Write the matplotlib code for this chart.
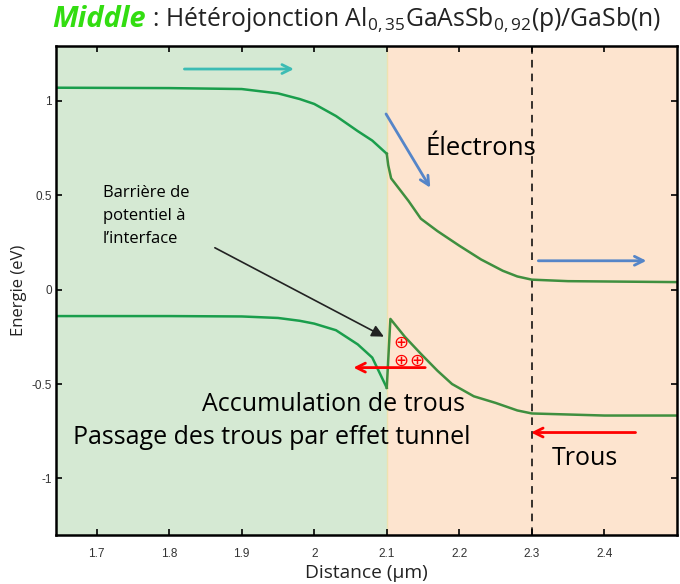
import matplotlib.pyplot as plt

# Band edges of the Al0.35GaAsSb0.92(p)/GaSb(n) heterojunction (eV vs µm)
x_left = [1.644, 1.80, 1.90, 1.95, 1.98, 2.00, 2.03, 2.06, 2.08, 2.10]
ec_left = [1.07, 1.068, 1.063, 1.04, 1.01, 0.984, 0.92, 0.84, 0.79, 0.72]
ev_left = [-0.14, -0.14, -0.142, -0.15, -0.165, -0.18, -0.215, -0.29, -0.36, -0.52]

x_ec_right = [2.10, 2.102, 2.106, 2.12, 2.13, 2.147, 2.17, 2.20, 2.23, 2.26, 2.28, 2.30, 2.35, 2.50]
ec_right = [0.72, 0.66, 0.59, 0.52, 0.47, 0.376, 0.31, 0.233, 0.16, 0.10, 0.07, 0.053, 0.045, 0.04]

x_ev_right = [2.10, 2.105, 2.125, 2.147, 2.17, 2.19, 2.22, 2.25, 2.28, 2.30, 2.40, 2.50]
ev_right = [-0.52, -0.155, -0.25, -0.34, -0.43, -0.50, -0.565, -0.60, -0.64, -0.656, -0.667, -0.667]

x_interface = 2.10
x_dashed = 2.30
x_range = (1.644, 2.50)
y_range = (-1.30, 1.29)

# hole symbols in the interface well
holes_x = [2.12, 2.12, 2.142]
holes_y = [-0.28, -0.376, -0.376]

GREEN_BG = "#d5e9d3"
PEACH_BG = "#fde4cf"
font = "Open Sans"

plt.rcParams["mathtext.fontset"] = "custom"
plt.rcParams["mathtext.rm"] = font
plt.rcParams["mathtext.it"] = font + ":italic"

fig = plt.figure(figsize=(6.8, 5.84), dpi=100)
ax = fig.add_axes([0.0824, 0.0839, 0.913, 0.837])
ax.set_xlim(*x_range)
ax.set_ylim(*y_range)

ax.axvspan(x_range[0], x_interface, color=GREEN_BG, zorder=0, lw=0)
ax.axvspan(x_interface, x_range[1], color=PEACH_BG, zorder=0, lw=0)
ax.axvline(x_interface, color="#eee2b0", lw=1, zorder=0.5)
ax.axvline(x_dashed, color="black", lw=1.1, ls=(0, (5, 4)), zorder=1)

ax.plot(x_left, ec_left, color="#1a9e4c", lw=1.8, zorder=2)
ax.plot(x_left, ev_left, color="#1a9e4c", lw=1.8, zorder=2)
ax.plot(x_ec_right, ec_right, color="#3f8f3f", lw=1.8, zorder=2)
ax.plot(x_ev_right, ev_right, color="#3f8f3f", lw=1.8, zorder=2)


def arrow(x0, y0, x1, y1, color, lw=2.0):
    ax.annotate("", xy=(x1, y1), xytext=(x0, y0),
                arrowprops=dict(arrowstyle="->", color=color, lw=lw,
                                mutation_scale=16, shrinkA=0, shrinkB=0),
                zorder=4)


arrow(1.821, 1.169, 1.972, 1.169, "#3cbcb4")
arrow(2.099, 0.931, 2.160, 0.54, "#5585c8")
arrow(2.309, 0.153, 2.458, 0.153, "#5585c8")
arrow(2.153, -0.413, 2.054, -0.413, "#ff0000")
arrow(2.443, -0.757, 2.299, -0.757, "#ff0000")
ax.annotate("", xy=(2.096, -0.249), xytext=(1.863, 0.222),
            arrowprops=dict(arrowstyle="-|>", color="#222222", lw=1.2,
                            mutation_scale=18, shrinkA=0, shrinkB=0),
            zorder=4)

for hx, hy in zip(holes_x, holes_y):
    ax.text(hx, hy, "\u2295", color="#ff0000", fontsize=13,
            ha="center", va="center", family="DejaVu Sans", zorder=5)

ax.text(2.153, 0.75, "Électrons", fontsize=18.5, family=font, va="center")
ax.text(1.7085, 0.39, "Barrière de\npotentiel à\nl\u2019interface", fontsize=12,
        family=font, va="center", linespacing=1.55)
ax.text(2.026, -0.61, "Accumulation de trous", fontsize=18, family=font,
        ha="center", va="center")
ax.text(1.941, -0.785, "Passage des trous par effet tunnel", fontsize=18,
        family=font, ha="center", va="center")
ax.text(2.327, -0.895, "Trous", fontsize=18, family=font, va="center")

ax.set_xticks([1.7, 1.8, 1.9, 2.0, 2.1, 2.2, 2.3, 2.4])
ax.set_xticklabels(["1.7", "1.8", "1.9", "2", "2.1", "2.2", "2.3", "2.4"])
ax.set_yticks([-1, -0.5, 0, 0.5, 1])
ax.set_yticklabels(["-1", "-0.5", "0", "0.5", "1"])
ax.tick_params(direction="in", length=4, width=1.2, top=True, right=True,
               labelsize=8.5, labelcolor="#333333")
ax.tick_params(axis="x", pad=9)
ax.tick_params(axis="y", pad=3)
for lab in ax.get_xticklabels() + ax.get_yticklabels():
    lab.set_family("Liberation Sans")
for spine in ax.spines.values():
    spine.set_linewidth(1.8)

ax.set_xlabel("Distance (µm)", fontsize=13.8, family=font, color="#222222", labelpad=3)
ax.set_ylabel("Energie (eV)", fontsize=12, family=font, color="#222222", labelpad=3)

# Title: green italic "Middle" followed by the structure, on one baseline
title_y = 0.954
t1 = fig.text(0.0765, title_y, "Middle", fontsize=21, family=font, weight="bold",
              style="italic", color="#33dd11", va="baseline")
fig.canvas.draw()
x_end = fig.transFigure.inverted().transform(
    (t1.get_window_extent().x1, 0))[0]
fig.text(x_end, title_y, " : Hétérojonction Al$_{0,35}$GaAsSb$_{0,92}$(p)/GaSb(n)",
         fontsize=17.8, family=font, color="#222222", va="baseline")

fig.savefig("out.png", dpi=100)
